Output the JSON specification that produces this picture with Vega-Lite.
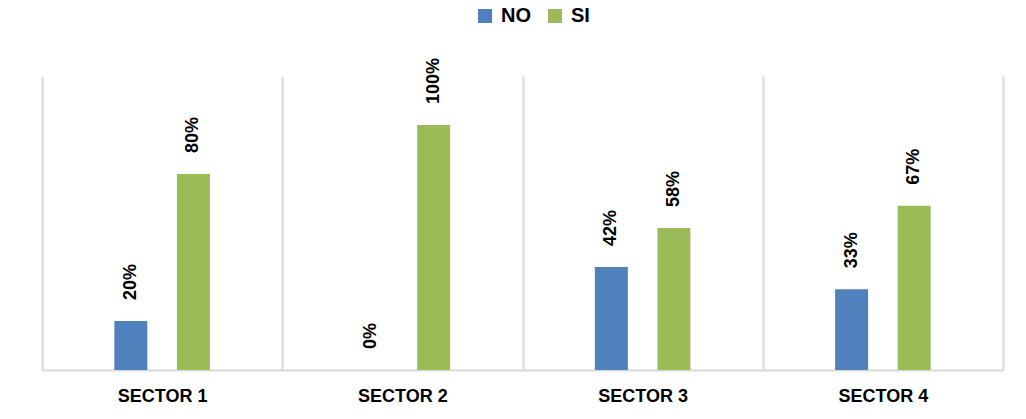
{
  "$schema": "https://vega.github.io/schema/vega-lite/v6.json",
  "width": 961,
  "height": 294,
  "autosize": "none",
  "padding": {"left": 42, "top": 76, "right": 23, "bottom": 49},
  "background": "white",
  "data": {
    "values": [
      {"sector": "SECTOR 1", "serie": "NO", "value": 0.20},
      {"sector": "SECTOR 1", "serie": "SI", "value": 0.80},
      {"sector": "SECTOR 2", "serie": "NO", "value": 0.00},
      {"sector": "SECTOR 2", "serie": "SI", "value": 1.00},
      {"sector": "SECTOR 3", "serie": "NO", "value": 0.42},
      {"sector": "SECTOR 3", "serie": "SI", "value": 0.58},
      {"sector": "SECTOR 4", "serie": "NO", "value": 0.33},
      {"sector": "SECTOR 4", "serie": "SI", "value": 0.67}
    ]
  },
  "encoding": {
    "x": {
      "field": "sector",
      "type": "nominal",
      "title": null,
      "scale": {"paddingInner": 0, "paddingOuter": 0},
      "axis": {
        "tickBand": "extent",
        "grid": true,
        "gridColor": "#d9d9d9",
        "gridWidth": 2,
        "domainColor": "#d9d9d9",
        "domainWidth": 2,
        "ticks": false,
        "labelAngle": 0,
        "labelFont": "Liberation Sans",
        "labelFontSize": 18,
        "labelFontWeight": "bold",
        "labelColor": "#000000",
        "labelPadding": 17
      }
    },
    "xOffset": {
      "field": "serie",
      "type": "nominal",
      "scale": {"paddingInner": 0.16, "paddingOuter": 1}
    },
    "y": {
      "field": "value",
      "type": "quantitative",
      "scale": {"domain": [0, 1.2]},
      "axis": null
    }
  },
  "layer": [
    {
      "mark": {"type": "bar", "width": 33},
      "encoding": {
        "color": {
          "field": "serie",
          "type": "nominal",
          "scale": {"domain": ["NO", "SI"], "range": ["#4F81BD", "#9BBB59"]},
          "legend": {
            "title": null,
            "orient": "none",
            "direction": "horizontal",
            "legendX": 433,
            "legendY": -70,
            "symbolType": "square",
            "symbolSize": 196,
            "symbolStrokeWidth": 0,
            "labelFont": "Liberation Sans",
            "labelFontSize": 20,
            "labelFontWeight": "bold",
            "labelColor": "#000000",
            "columnPadding": 14,
            "labelOffset": 6
          }
        }
      }
    },
    {
      "mark": {
        "type": "text",
        "angle": 270,
        "align": "left",
        "baseline": "middle",
        "dx": 21,
        "font": "Liberation Sans",
        "fontSize": 18,
        "fontWeight": "bold",
        "color": "#000000"
      },
      "encoding": {
        "text": {"field": "value", "type": "quantitative", "format": ".0%"}
      }
    }
  ],
  "config": {"view": {"stroke": null}}
}
